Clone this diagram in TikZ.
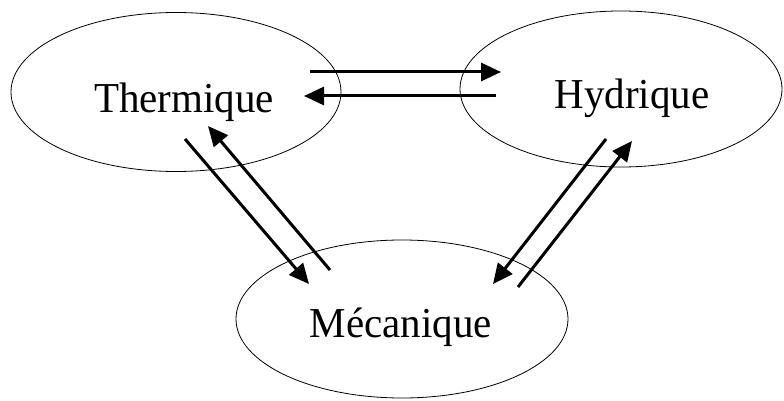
\documentclass[tikz,border=0pt]{standalone}
\usepackage{fontspec}
\setmainfont{Liberation Serif}
\usetikzlibrary{shapes.geometric,arrows.meta}
\begin{document}
\begin{tikzpicture}[x=1pt,y=-1pt,
  zone/.style={draw,ellipse,line width=0.8pt,inner sep=0pt},
  lbl/.style={font=\fontsize{41}{45}\selectfont,anchor=base,inner sep=0pt,yscale=1.04},
  flow/.style={line width=3pt,-{Triangle[length=20pt,width=18pt]}}]
\useasboundingbox (0,0) rectangle (784,401);
\node[zone,minimum width=330pt,minimum height=159pt] (th) at (176,92) {};
\node[zone,minimum width=322pt,minimum height=156pt] (hy) at (621,89) {};
\node[zone,minimum width=332pt,minimum height=158pt] (me) at (402,319) {};
\node[lbl] (tht) at (184,113) {Thermique};
\node[lbl] (hyt) at (632,109) {Hydrique};
\node[lbl] (met) at (401,337) {Mécanique};
% endpoints
\coordinate (a1) at (310,72);  \coordinate (a2) at (501,72);
\coordinate (b1) at (496,96);  \coordinate (b2) at (304,96);
\coordinate (c1) at (185,139); \coordinate (c2) at (309,284);
\coordinate (d1) at (330,270); \coordinate (d2) at (208,126);
\coordinate (e1) at (606,139); \coordinate (e2) at (493,284);
\coordinate (f1) at (518,287); \coordinate (f2) at (632,141);
\draw[flow] (a1) -- (a2);
\draw[flow] (b1) -- (b2);
\draw[flow] (c1) -- (c2);
\draw[flow] (d1) -- (d2);
\draw[flow] (e1) -- (e2);
\draw[flow] (f1) -- (f2);
\end{tikzpicture}
\end{document}
